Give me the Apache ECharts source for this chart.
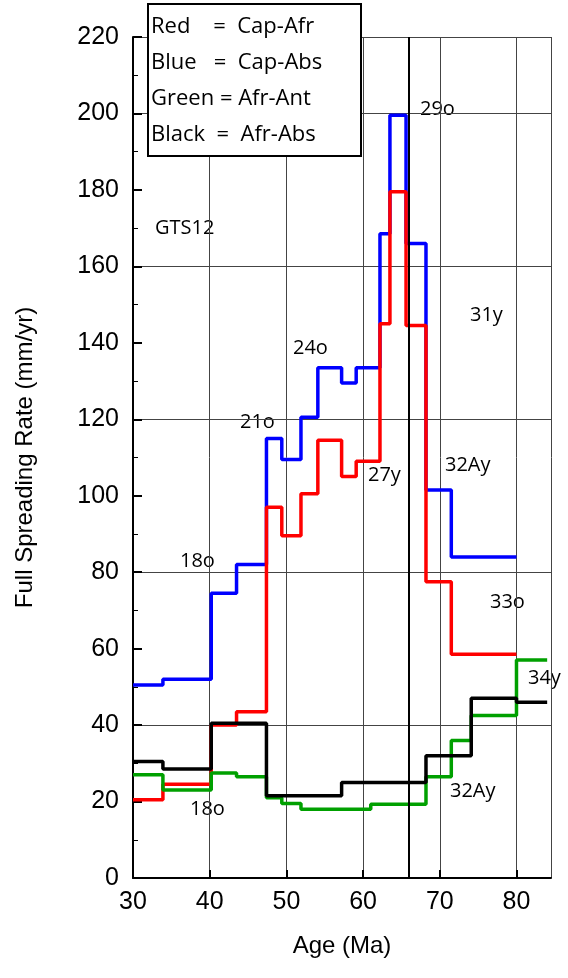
<!DOCTYPE html>
<html><head><meta charset="utf-8">
<script src="https://cdn.jsdelivr.net/npm/echarts@6/dist/echarts.min.js"></script>
<style>html,body{margin:0;background:#fff}#c{width:568px;height:978px}</style>
</head><body><div id="c"></div>
<script>
// step boundaries (Ma) and rates (mm/yr)
var blueAge  = [30, 33.9, 40.2, 43.5, 47.4, 49.4, 51.9, 54.1, 57.2, 59.1, 62.2, 63.5, 65.6, 68.2, 71.5, 80];
var blueRate = [50.5, 52, 74.5, 82, 115, 109.5, 120.5, 133.5, 129.5, 133.5, 168.5, 199.5, 166, 101.5, 84, 84];
var redAge   = [30, 33.9, 40.2, 43.5, 47.4, 49.4, 51.9, 54.1, 57.2, 59.1, 62.2, 63.5, 65.6, 68.2, 71.5, 80];
var redRate  = [20.5, 24.5, 40, 43.5, 97, 89.5, 100.5, 114.5, 105, 109, 145, 179.5, 144.5, 77.5, 58.5, 58.5];
var greenAge  = [30, 33.9, 40.2, 43.5, 47.4, 49.4, 51.9, 61, 68.2, 71.5, 74.1, 80, 84];
var greenRate = [27, 23, 27.5, 26.5, 21, 19.5, 18, 19.3, 26.5, 36, 42.5, 57, 57];
var blackAge  = [30, 33.9, 40.2, 47.4, 57.2, 68.2, 74.1, 80, 84];
var blackRate = [30.5, 28.5, 40.5, 21.5, 25, 32, 47, 46, 46];
var kpgAge = 66;

function pts(a, v){ return a.map(function(x,i){ return [x, v[i]]; }); }
function stepSeries(name, color, a, v){
  return {name:name, type:'line', step:'end', data:pts(a,v), symbol:'none',
    lineStyle:{color:color, width:3.5}, z:3};
}
var chart = echarts.init(document.getElementById('c'));
var font = 'Helvetica, Arial, "Liberation Sans", sans-serif';
function lbl(x,y,t){ return {type:'text', left:x, top:y, style:{text:t, font:'20px "Open Sans", sans-serif', fill:'#000'}}; }
chart.setOption({
  animation:false,
  grid:{left:133, right:17, top:37, bottom:100},
  xAxis:{type:'value', min:30, max:84.5, interval:10,
    name:'Age (Ma)', nameLocation:'middle', nameGap:56, nameTextStyle:{fontSize:24, color:'#000', fontFamily:font},
    axisLine:{onZero:false, lineStyle:{color:'#000', width:2}},
    axisTick:{length:-8, lineStyle:{color:'#000', width:2}},
    axisLabel:{fontSize:25, color:'#000', fontFamily:font, margin:12, showMaxLabel:false},
    splitLine:{lineStyle:{color:'#444', width:1}}},
  yAxis:[{type:'value', min:0, max:220, interval:20,
    name:'Full Spreading Rate (mm/yr)', nameLocation:'middle', nameGap:96, nameTextStyle:{fontSize:24, color:'#000', fontFamily:font},
    axisLine:{show:true, lineStyle:{color:'#000', width:2}},
    axisTick:{length:-9, lineStyle:{color:'#000', width:2}},
    minorTick:{show:true, splitNumber:2, length:-5, lineStyle:{color:'#000', width:1}},
    axisLabel:{fontSize:25, color:'#000', fontFamily:font, margin:14},
    splitLine:{show:false}},
   {type:'value', min:0, max:220, interval:40, position:'left',
    axisLine:{show:false}, axisTick:{show:false}, axisLabel:{show:false},
    splitLine:{lineStyle:{color:'#444', width:1}}}],
  series:[
    stepSeries('Cap-Abs','#0000ff',blueAge,blueRate),
    stepSeries('Cap-Afr','#ff0000',redAge,redRate),
    stepSeries('Afr-Ant','#00a000',greenAge,greenRate),
    stepSeries('Afr-Abs','#000000',blackAge,blackRate),
    {type:'line', data:[], markLine:{symbol:'none', silent:true, label:{show:false},
      lineStyle:{color:'#000', width:2, type:'solid'}, data:[{xAxis:kpgAge}]}}
  ],
  graphic:[
    {type:'rect', left:147, top:3, shape:{width:213, height:152}, style:{fill:'#fff', stroke:'#000', lineWidth:2}, z:10},
    {type:'text', left:151, top:9, z:11, style:{text:'Red    =  Cap-Afr\nBlue   =  Cap-Abs\nGreen = Afr-Ant\nBlack  =  Afr-Abs', font:'22px "Open Sans", sans-serif', lineHeight:36, fill:'#000'}},
    lbl(155,218,'GTS12'), lbl(420,99,'29o'), lbl(470,305,'31y'), lbl(293,338,'24o'),
    lbl(240,412,'21o'), lbl(368,465,'27y'), lbl(445,455,'32Ay'), lbl(180,551,'18o'),
    lbl(490,592,'33o'), lbl(528,668,'34y'), lbl(190,799,'18o'), lbl(450,781,'32Ay')
  ]
});
</script></body></html>
